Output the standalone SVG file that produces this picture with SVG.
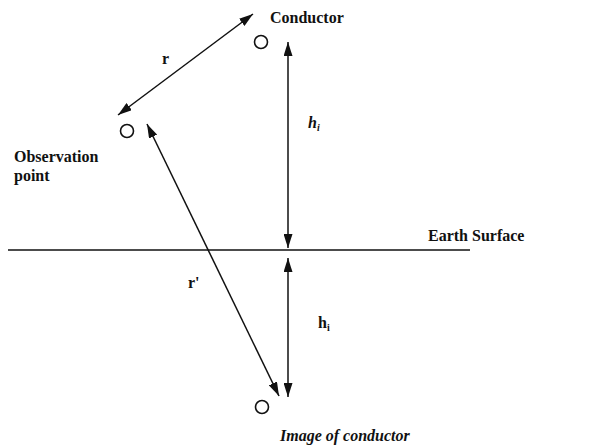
<svg xmlns="http://www.w3.org/2000/svg" width="611" height="448" viewBox="0 0 611 448">
<style>
text{font-family:"Liberation Serif","DejaVu Serif",serif;font-size:16px;font-weight:bold;fill:#111;}
.c{fill:#fff;stroke:#111;stroke-width:1.6;}
.l{stroke:#111;stroke-width:1.5;fill:none;}
</style>
<defs>
<marker id="ah" viewBox="0 0 14 9" refX="14" refY="4.5" markerWidth="14" markerHeight="9" markerUnits="userSpaceOnUse" orient="auto-start-reverse">
<path d="M0,0 L14,4.5 L0,9 Z" fill="#111"/>
</marker>
</defs>
<rect width="611" height="448" fill="#fff"/>
<g id="earth">
<line class="l" x1="8" y1="250" x2="470" y2="250"/>
<text x="428" y="241">Earth Surface</text>
</g>
<g id="conductor">
<circle class="c" cx="261" cy="42" r="6.5"/>
<text x="270" y="23">Conductor</text>
</g>
<g id="observation">
<circle class="c" cx="127" cy="131" r="6.5"/>
<text x="14" y="162">Observation</text>
<text x="14" y="181">point</text>
</g>
<g id="image">
<circle class="c" cx="262" cy="407" r="6.5"/>
<text x="280" y="441" font-style="italic">Image of conductor</text>
</g>
<g id="connectors">
<line class="l" x1="118" y1="115" x2="253" y2="14" marker-start="url(#ah)" marker-end="url(#ah)"/>
<line class="l" x1="147" y1="124" x2="279" y2="396" marker-start="url(#ah)" marker-end="url(#ah)"/>
<line class="l" x1="288" y1="42" x2="288" y2="248" marker-start="url(#ah)" marker-end="url(#ah)"/>
<line class="l" x1="288" y1="258" x2="288" y2="397" marker-start="url(#ah)" marker-end="url(#ah)"/>
</g>
<g id="labels">
<text x="162" y="64">r</text>
<text x="188" y="288">r'</text>
<text x="308" y="128" font-style="italic">h<tspan font-size="10" dy="3">i</tspan></text>
<text x="318" y="328">h<tspan font-size="10" dy="3">i</tspan></text>
</g>
</svg>
